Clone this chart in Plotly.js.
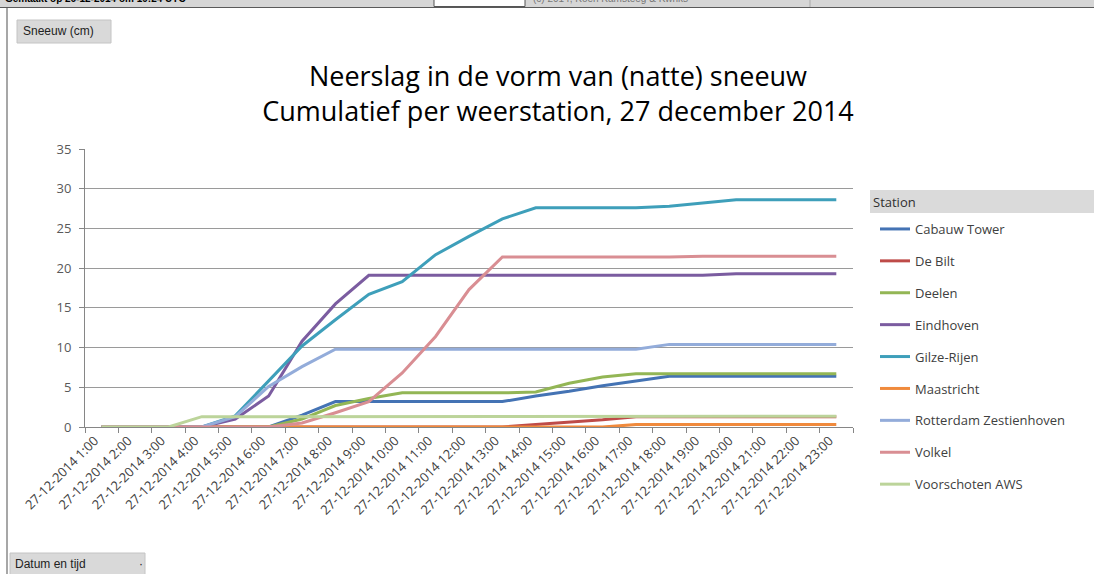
<!DOCTYPE html>
<html>
<head>
<meta charset="utf-8">
<script src="https://cdn.plot.ly/plotly-3.0.1.min.js"></script>
<style>
html,body{margin:0;padding:0;background:#fff;}
#chart{width:1094px;height:574px;}
</style>
</head>
<body>
<div id="chart"></div>
<script>
var times = ["27-12-2014 1:00","27-12-2014 2:00","27-12-2014 3:00","27-12-2014 4:00","27-12-2014 5:00","27-12-2014 6:00","27-12-2014 7:00","27-12-2014 8:00","27-12-2014 9:00","27-12-2014 10:00","27-12-2014 11:00","27-12-2014 12:00","27-12-2014 13:00","27-12-2014 14:00","27-12-2014 15:00","27-12-2014 16:00","27-12-2014 17:00","27-12-2014 18:00","27-12-2014 19:00","27-12-2014 20:00","27-12-2014 21:00","27-12-2014 22:00","27-12-2014 23:00"];

var stations = ["Cabauw Tower","De Bilt","Deelen","Eindhoven","Gilze-Rijen","Maastricht","Rotterdam Zestienhoven","Volkel","Voorschoten AWS"];

var cabauw      = [0,0,0,0,0,0,1.5,3.2,3.2,3.2,3.2,3.2,3.2,3.9,4.5,5.2,5.8,6.4,6.4,6.4,6.4,6.4,6.4];
var deBilt      = [0,0,0,0,0,0,0,0,0,0,0,0,0,0.3,0.6,0.9,1.3,1.3,1.3,1.3,1.3,1.3,1.3];
var deelen      = [0,0,0,0,0,0,1.0,2.7,3.6,4.3,4.3,4.3,4.3,4.4,5.5,6.3,6.7,6.7,6.7,6.7,6.7,6.7,6.7];
var eindhoven   = [0,0,0,0,1.0,3.9,10.8,15.5,19.1,19.1,19.1,19.1,19.1,19.1,19.1,19.1,19.1,19.1,19.1,19.3,19.3,19.3,19.3];
var gilze       = [0,0,0,0,1.4,5.8,10.2,13.5,16.7,18.3,21.7,24.0,26.2,27.6,27.6,27.6,27.6,27.8,28.2,28.6,28.6,28.6,28.6];
var maastricht  = [0,0,0,0,0,0,0,0,0,0,0,0,0,0,0,0,0.3,0.3,0.3,0.3,0.3,0.3,0.3];
var rotterdam   = [0,0,0,0,1.3,5.1,7.6,9.8,9.8,9.8,9.8,9.8,9.8,9.8,9.8,9.8,9.8,10.4,10.4,10.4,10.4,10.4,10.4];
var volkel      = [0,0,0,0,0,0,0.5,1.8,3.2,6.8,11.4,17.3,21.4,21.4,21.4,21.4,21.4,21.4,21.5,21.5,21.5,21.5,21.5];
var voorschoten = [0,0,0,1.3,1.3,1.3,1.3,1.3,1.3,1.3,1.3,1.3,1.3,1.3,1.3,1.3,1.35,1.35,1.35,1.35,1.35,1.35,1.35];

var seriesValues = [cabauw, deBilt, deelen, eindhoven, gilze, maastricht, rotterdam, volkel, voorschoten];
var colors = ["#4473B4","#BE4B48","#93B655","#7B5CA0","#3E9FBA","#F08A3C","#93ACDA","#D98E93","#BCD49A"];

var traces = stations.map(function(name, i){
  return {
    type: "scatter", mode: "lines", name: name, x: times, y: seriesValues[i],
    legendgroup: "g"+i,
    line: {color: colors[i], width: 3, shape: "linear"},
    hoverinfo: "x+y+name"
  };
});

// pixel -> paper helpers (plot area: x 85..853, y 149..427)
var L = 85, R = 853, T = 149, B = 427;
function px(x){ return (x - L) / (R - L); }
function py(y){ return (B - y) / (B - T); }

var shapes = [
  {type:"rect", xref:"paper", yref:"paper", x0:px(0), x1:px(1094), y0:py(7), y1:py(-2), fillcolor:"#d6d6d6", line:{width:0}, layer:"below"},
  {type:"line", xref:"paper", yref:"paper", x0:px(0), x1:px(1094), y0:py(7.5), y1:py(7.5), line:{color:"#5a5a5a", width:1}, layer:"below"},
  {type:"rect", xref:"paper", yref:"paper", x0:px(434), x1:px(525), y0:py(6.5), y1:py(-2), fillcolor:"#ffffff", line:{color:"#555", width:1}, layer:"below"},
  {type:"line", xref:"paper", yref:"paper", x0:px(810), x1:px(810), y0:py(7), y1:py(0), line:{color:"#aaaaaa", width:1}, layer:"below"},
  {type:"line", xref:"paper", yref:"paper", x0:px(7), x1:px(7), y0:py(8), y1:py(580), line:{color:"#8a8a8a", width:1.5}, layer:"below"},
  {type:"rect", xref:"paper", yref:"paper", x0:px(17), x1:px(111), y0:py(43), y1:py(20), fillcolor:"#d9d9d9", line:{color:"#c4c4c4", width:1}, layer:"below"},
  {type:"rect", xref:"paper", yref:"paper", x0:px(10), x1:px(145), y0:py(580), y1:py(553), fillcolor:"#d9d9d9", line:{color:"#c4c4c4", width:1}, layer:"below"},
  {type:"rect", xref:"paper", yref:"paper", x0:px(870), x1:px(1100), y0:py(213), y1:py(190), fillcolor:"#dadada", line:{width:0}, layer:"below"}
];

var annotations = [
  {xref:"paper", yref:"paper", x:px(3), y:py(6), xanchor:"left", yanchor:"bottom", showarrow:false,
   text:"<b>Gemaakt op 26-12-2014 om 19:24 UTC</b>", font:{family:"Liberation Sans, Arial", size:10, color:"#000"}},
  {xref:"paper", yref:"paper", x:px(531), y:py(6), xanchor:"left", yanchor:"bottom", showarrow:false,
   text:"(c) 2014, Koen Kamsteeg & Kwnks", font:{family:"Liberation Sans, Arial", size:10, color:"#777"}},
  {xref:"paper", yref:"paper", x:px(21), y:py(31.5), xanchor:"left", yanchor:"middle", showarrow:false,
   text:"Sneeuw (cm)", font:{family:"Liberation Sans, Arial", size:12, color:"#222"}},
  {xref:"paper", yref:"paper", x:px(13), y:py(564), xanchor:"left", yanchor:"middle", showarrow:false,
   text:"Datum en tijd", font:{family:"Liberation Sans, Arial", size:12, color:"#222"}},
  {xref:"paper", yref:"paper", x:px(141), y:py(564), xanchor:"center", yanchor:"middle", showarrow:false,
   text:"·", font:{family:"Liberation Sans, Arial", size:12, color:"#222"}},
  {xref:"paper", yref:"paper", x:px(871), y:py(201.5), xanchor:"left", yanchor:"middle", showarrow:false,
   text:"Station", font:{family:"Open Sans, sans-serif", size:13, color:"#303030"}}
];

var layout = {
  width: 1094, height: 574,
  margin: {l: L, r: 1094 - R, t: T, b: 574 - B, pad: 0},
  paper_bgcolor: "#ffffff", plot_bgcolor: "#ffffff",
  font: {family: "Open Sans, Lato, sans-serif", color: "#404040"},
  title: {
    text: "Neerslag in de vorm van (natte) sneeuw<br>Cumulatief per weerstation, 27 december 2014",
    font: {family: "Open Sans, sans-serif", size: 27, color: "#000000"},
    x: px(558), xref: "paper", xanchor: "center",
    y: 1 - 86/574, yref: "container", yanchor: "middle"
  },
  xaxis: {
    type: "category", range: [-0.5, times.length - 0.5],
    tickson: "boundaries", ticks: "outside", ticklen: 5, tickcolor: "#868686",
    showline: true, linecolor: "#868686", linewidth: 1, showgrid: false, zeroline: false,
    tickangle: -45, ticklabelshift: -7,
    tickfont: {family: "Open Sans, sans-serif", size: 13, color: "#404040"},
    automargin: false, fixedrange: true
  },
  yaxis: {
    range: [0, 35], dtick: 5, tick0: 0, ticks: "outside", ticklen: 5, tickcolor: "#868686",
    showline: true, linecolor: "#868686", linewidth: 1,
    showgrid: true, gridcolor: "#9a9a9a", gridwidth: 1, zeroline: false,
    tickfont: {family: "Open Sans, sans-serif", size: 13, color: "#595959"},
    ticklabelstandoff: 5,
    automargin: false, fixedrange: true
  },
  showlegend: true,
  legend: {
    x: px(875), y: py(214), xanchor: "left", yanchor: "top",
    bgcolor: "rgba(0,0,0,0)", borderwidth: 0,
    font: {family: "Open Sans, sans-serif", size: 13, color: "#404040"},
    tracegroupgap: 12, itemwidth: 30, traceorder: "grouped", maxheight: 400
  },
  shapes: shapes,
  annotations: annotations
};

Plotly.newPlot("chart", traces, layout, {displayModeBar: false, staticPlot: true});
</script>
</body>
</html>
